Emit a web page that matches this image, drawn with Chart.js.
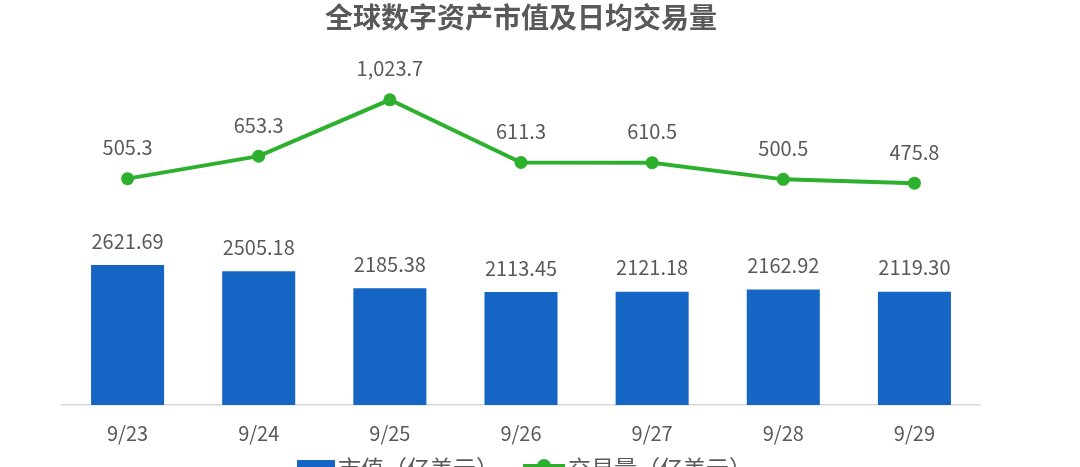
<!DOCTYPE html>
<html>
<head>
<meta charset="utf-8">
<script src="https://cdn.jsdelivr.net/npm/chart.js@4.4.1/dist/chart.umd.min.js"></script>
<style>
  html, body { margin: 0; padding: 0; background: #ffffff; overflow: hidden; }
  #wrap { width: 1080px; height: 467px; position: relative; }
</style>
</head>
<body>
<div id="wrap"><canvas id="c"></canvas></div>
<script>
// Dates on the x axis
const dates = ['9/23', '9/24', '9/25', '9/26', '9/27', '9/28', '9/29'];
// Global digital asset market cap (100M USD)
const marketCap = [2621.69, 2505.18, 2185.38, 2113.45, 2121.18, 2162.92, 2119.30];
// Daily average trading volume (100M USD)
const dailyVolume = [505.3, 653.3, 1023.7, 611.3, 610.5, 500.5, 475.8];
const seriesNames = ['市值（亿美元）', '交易量（亿美元）'];
const chartTitle = '全球数字资产市值及日均交易量';

const FONT = '"Noto Sans CJK SC", "Noto Sans", sans-serif';
const TEXT = '#595959';
const BLUE = '#1565C4';
const GREEN = '#2DB02D';

// Value labels above bars and line points
const valueLabels = {
  id: 'valueLabels',
  afterDatasetsDraw(chart) {
    const ctx = chart.ctx;
    ctx.save();
    ctx.font = '20px ' + FONT;
    ctx.fillStyle = TEXT;
    ctx.textAlign = 'center';
    ctx.textBaseline = 'middle';
    chart.data.datasets.forEach((ds, i) => {
      const meta = chart.getDatasetMeta(i);
      meta.data.forEach((el, j) => {
        const v = ds.data[j];
        let text, off;
        if (ds.type === 'bar') {
          text = v.toFixed(2);
          off = 24;
        } else {
          text = v.toLocaleString('en-US', { minimumFractionDigits: 1, maximumFractionDigits: 1 });
          off = 31;
        }
        ctx.fillText(text, el.x, el.y - off);
      });
    });
    ctx.restore();
  }
};

// Legend row under the axis
const bottomLegend = {
  id: 'bottomLegend',
  afterDraw(chart) {
    const ctx = chart.ctx;
    const area = chart.chartArea;
    ctx.save();
    ctx.font = '23px ' + FONT;
    ctx.textBaseline = 'middle';
    ctx.textAlign = 'left';
    const y = 468;
    const boxW = 38, iconW = 42, gapText = 3, gapItem = 24;
    const w1 = ctx.measureText(seriesNames[0]).width;
    let x = (area.left + area.right) / 2 - 224;
    ctx.fillStyle = BLUE;
    ctx.fillRect(x, y - 8, boxW, 16);
    x += boxW + gapText;
    ctx.fillStyle = TEXT;
    ctx.fillText(seriesNames[0], x, y);
    x += w1 + gapItem;
    ctx.strokeStyle = GREEN;
    ctx.lineWidth = 4;
    ctx.beginPath();
    ctx.moveTo(x, y - 2);
    ctx.lineTo(x + iconW, y - 2);
    ctx.stroke();
    ctx.fillStyle = GREEN;
    ctx.beginPath();
    ctx.arc(x + iconW / 2, y - 2, 7, 0, Math.PI * 2);
    ctx.fill();
    x += iconW + gapText;
    ctx.fillStyle = TEXT;
    ctx.fillText(seriesNames[1], x, y);
    ctx.restore();
  }
};

new Chart(document.getElementById('c'), {
  data: {
    labels: dates,
    datasets: [
      {
        type: 'line',
        label: seriesNames[1],
        data: dailyVolume,
        yAxisID: 'yVol',
        borderColor: GREEN,
        backgroundColor: GREEN,
        borderWidth: 4,
        pointRadius: 6.5,
        pointHoverRadius: 6.5,
        pointBackgroundColor: GREEN,
        pointBorderWidth: 0,
        tension: 0,
        order: 0
      },
      {
        type: 'bar',
        label: seriesNames[0],
        data: marketCap,
        yAxisID: 'yCap',
        backgroundColor: BLUE,
        barPercentage: 0.557,
        categoryPercentage: 1.0,
        order: 1
      }
    ]
  },
  options: {
    responsive: true,
    maintainAspectRatio: false,
    animation: false,
    layout: { padding: { left: 62, right: 100, top: 0, bottom: 6 } },
    plugins: {
      legend: { display: false },
      tooltip: { enabled: false },
      title: {
        display: true,
        text: chartTitle,
        color: TEXT,
        font: { family: FONT, size: 28, weight: 'bold', lineHeight: 1.2 },
        padding: { top: 1, bottom: 25 }
      }
    },
    scales: {
      x: {
        offset: true,
        grid: { display: false, drawTicks: false },
        border: { display: true, color: '#D9D9D9', width: 1.5 },
        ticks: { color: TEXT, font: { family: FONT, size: 20 }, padding: 16 }
      },
      yCap: {
        display: false,
        min: 0,
        max: 6466
      },
      yVol: {
        display: false,
        min: -983,
        max: 1288
      }
    }
  },
  plugins: [valueLabels, bottomLegend]
});
</script>
</body>
</html>
